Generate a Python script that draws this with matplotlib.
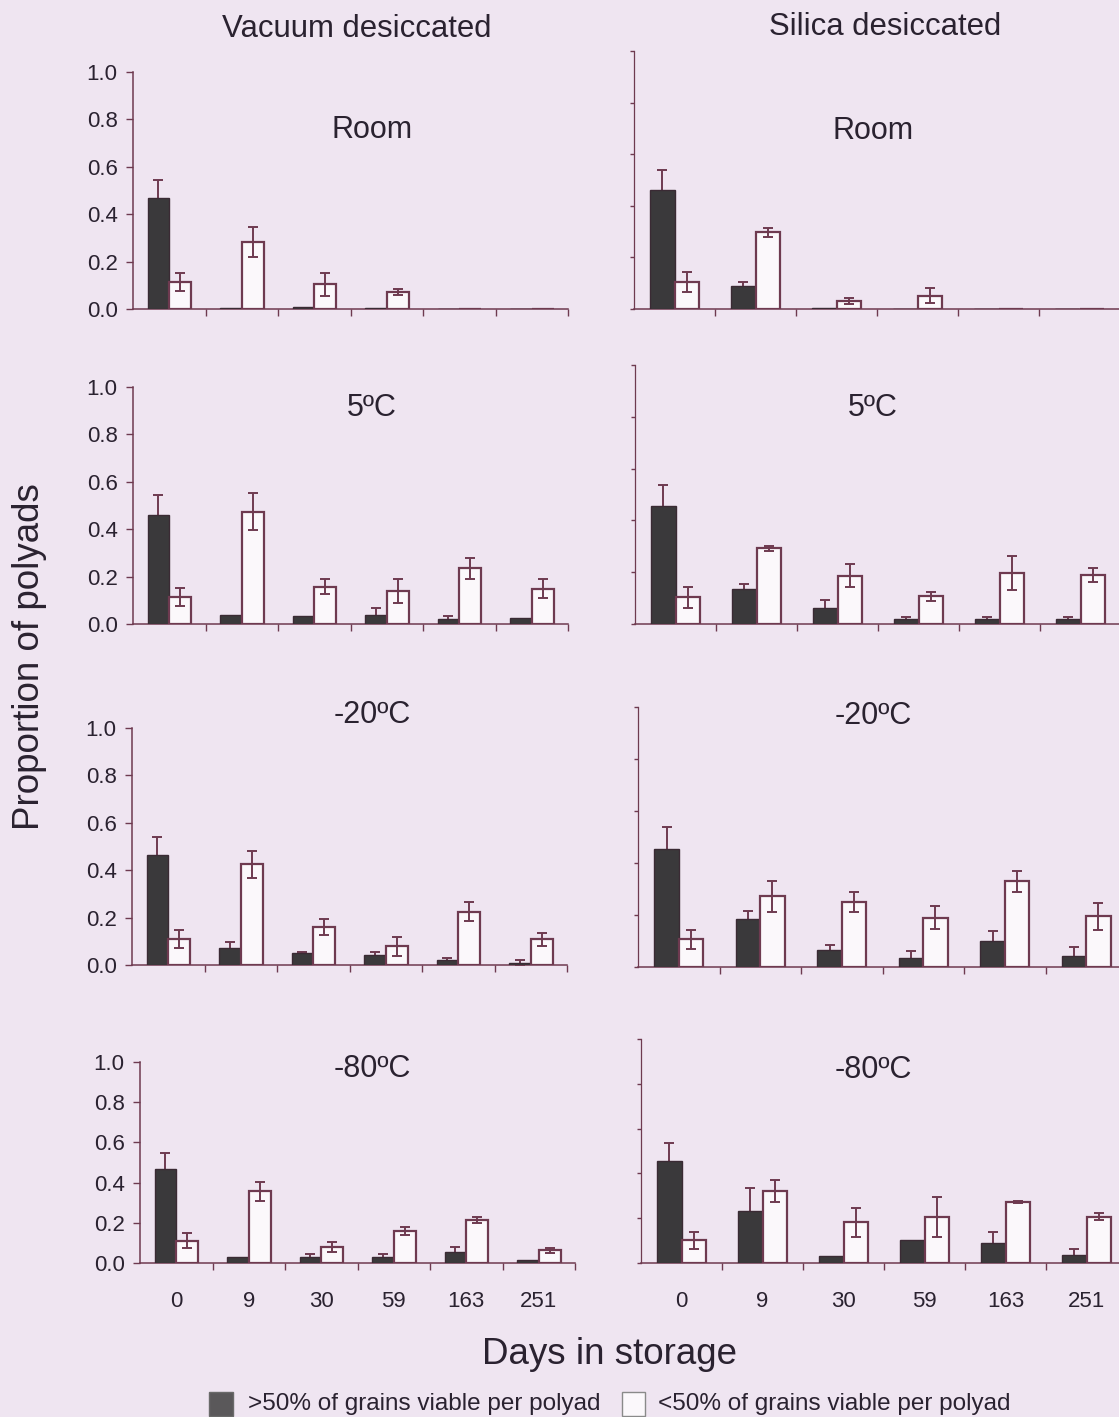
import matplotlib
matplotlib.use("Agg")
import matplotlib.pyplot as plt
import numpy as np
from matplotlib.patches import Rectangle

plt.rcParams['font.family'] = ['Liberation Sans', 'DejaVu Sans']

# ---------------- data ----------------
days = ["0", "9", "30", "59", "163", "251"]
col_titles = ["Vacuum desiccated", "Silica desiccated"]
row_titles = ["Room", "5ºC", "-20ºC", "-80ºC"]
legend_labels = [">50% of grains viable per polyad", "<50% of grains viable per polyad"]

# Vacuum desiccated
vac_room_hi = [0.467, 0.005, 0.010, 0.003, 0.0, 0.0]
vac_room_hi_err = [0.077, 0.0, 0.0, 0.0, 0.0, 0.0]
vac_room_lo = [0.115, 0.284, 0.104, 0.073, 0.0, 0.0]
vac_room_lo_err = [0.037, 0.063, 0.048, 0.012, 0.0, 0.0]

vac_5_hi = [0.461, 0.036, 0.032, 0.039, 0.021, 0.025]
vac_5_hi_err = [0.083, 0.0, 0.0, 0.029, 0.013, 0.0]
vac_5_lo = [0.112, 0.474, 0.157, 0.139, 0.235, 0.148]
vac_5_lo_err = [0.038, 0.077, 0.031, 0.052, 0.044, 0.040]

vac_m20_hi = [0.464, 0.072, 0.049, 0.042, 0.021, 0.010]
vac_m20_hi_err = [0.077, 0.026, 0.005, 0.013, 0.010, 0.011]
vac_m20_lo = [0.110, 0.425, 0.159, 0.080, 0.225, 0.108]
vac_m20_lo_err = [0.038, 0.057, 0.034, 0.040, 0.040, 0.028]

vac_m80_hi = [0.466, 0.028, 0.028, 0.028, 0.056, 0.016]
vac_m80_hi_err = [0.083, 0.0, 0.017, 0.017, 0.025, 0.0]
vac_m80_lo = [0.111, 0.356, 0.078, 0.157, 0.215, 0.063]
vac_m80_lo_err = [0.037, 0.047, 0.025, 0.020, 0.016, 0.013]

# Silica desiccated
sil_room_hi = [0.461, 0.089, 0.002, 0.0, 0.0, 0.0]
sil_room_hi_err = [0.078, 0.015, 0.0, 0.0, 0.0, 0.0]
sil_room_lo = [0.106, 0.297, 0.031, 0.052, 0.0, 0.0]
sil_room_lo_err = [0.039, 0.016, 0.010, 0.030, 0.0, 0.0]

sil_5_hi = [0.457, 0.137, 0.063, 0.019, 0.019, 0.019]
sil_5_hi_err = [0.080, 0.016, 0.028, 0.007, 0.007, 0.007]
sil_5_lo = [0.103, 0.292, 0.186, 0.107, 0.197, 0.190]
sil_5_lo_err = [0.040, 0.010, 0.045, 0.018, 0.066, 0.028]

sil_m20_hi = [0.455, 0.186, 0.065, 0.035, 0.100, 0.044]
sil_m20_hi_err = [0.083, 0.029, 0.020, 0.027, 0.038, 0.032]
sil_m20_lo = [0.106, 0.272, 0.250, 0.190, 0.330, 0.196]
sil_m20_lo_err = [0.038, 0.060, 0.038, 0.043, 0.040, 0.052]

sil_m80_hi = [0.454, 0.233, 0.030, 0.104, 0.089, 0.034]
sil_m80_hi_err = [0.082, 0.104, 0.0, 0.0, 0.048, 0.027]
sil_m80_lo = [0.101, 0.323, 0.181, 0.204, 0.272, 0.207]
sil_m80_lo_err = [0.039, 0.049, 0.065, 0.090, 0.005, 0.016]

yticks = [0.0, 0.2, 0.4, 0.6, 0.8, 1.0]

panels = [
    # (row, col, hi, hi_err, lo, lo_err, box px (left, right, top, bottom))
    (0, 0, vac_room_hi, vac_room_hi_err, vac_room_lo, vac_room_lo_err, (133, 568, 72, 309)),
    (1, 0, vac_5_hi, vac_5_hi_err, vac_5_lo, vac_5_lo_err, (133, 568, 387, 624)),
    (2, 0, vac_m20_hi, vac_m20_hi_err, vac_m20_lo, vac_m20_lo_err, (132, 567, 728, 965)),
    (3, 0, vac_m80_hi, vac_m80_hi_err, vac_m80_lo, vac_m80_lo_err, (140, 575, 1062, 1263)),
    (0, 1, sil_room_hi, sil_room_hi_err, sil_room_lo, sil_room_lo_err, (634, 1120, 51, 309)),
    (1, 1, sil_5_hi, sil_5_hi_err, sil_5_lo, sil_5_lo_err, (635, 1121, 365, 624)),
    (2, 1, sil_m20_hi, sil_m20_hi_err, sil_m20_lo, sil_m20_lo_err, (638, 1127, 707, 967)),
    (3, 1, sil_m80_hi, sil_m80_hi_err, sil_m80_lo, sil_m80_lo_err, (641, 1127, 1039, 1263)),
]

# ---------------- style ----------------
W, H = 1119, 1417
BG = '#efe5f1'
DARK = '#3a393b'
LINE = '#6e3a50'
TXT = '#2a2230'

fig = plt.figure(figsize=(W / 100, H / 100), dpi=100, facecolor=BG)


def add_ax(left, right, top, bottom):
    return fig.add_axes([left / W, 1 - bottom / H, (right - left) / W, (bottom - top) / H])


x = np.arange(len(days))
bw = 0.3
for row, col, hi, hi_err, lo, lo_err, box in panels:
    ax = add_ax(*box)
    ax.set_facecolor('none')
    hi = np.array(hi); hi_err = np.array(hi_err)
    lo = np.array(lo); lo_err = np.array(lo_err)
    ax.bar(x - bw / 2, hi, bw, color=DARK, edgecolor='#3a2a34', linewidth=1.0, zorder=3)
    ax.bar(x + bw / 2, lo, bw, color='#fbf8fb', edgecolor=LINE, linewidth=1.6, zorder=3)
    m = hi_err > 0
    ax.errorbar(x[m] - bw / 2, hi[m], yerr=hi_err[m], fmt='none', ecolor=LINE,
                elinewidth=1.4, capsize=3.5, capthick=1.4, zorder=2)
    m = lo_err > 0
    ax.errorbar(x[m] + bw / 2, lo[m], yerr=lo_err[m], fmt='none', ecolor=LINE,
                elinewidth=1.4, capsize=3.5, capthick=1.4, zorder=4)
    ax.set_xlim(-0.5, len(days) - 0.5)
    ax.set_ylim(0, 1)
    for s in ['top', 'right']:
        ax.spines[s].set_visible(False)
    for s in ['left', 'bottom']:
        ax.spines[s].set_color(LINE)
        ax.spines[s].set_linewidth(1.1)
    if col == 1:
        ax.spines['left'].set_linewidth(0.9)
    ax.set_yticks(yticks)
    ax.tick_params(axis='y', direction='out', length=5, width=1, color=LINE,
                   labelsize=16, labelcolor=TXT, pad=6)
    if col == 1:
        ax.tick_params(axis='y', labelleft=False, length=3)
    else:
        ax.set_yticklabels([f"{v:.1f}" for v in yticks])
    ax.set_xticks(x)
    ax.set_xticks(x + 0.5, minor=True)
    ax.tick_params(axis='x', which='minor', direction='out', length=5, width=1, color=LINE)
    ax.tick_params(axis='x', which='major', length=0, labelsize=16, labelcolor=TXT, pad=20)
    if row == 3:
        ax.set_xticklabels(days)
    else:
        ax.set_xticklabels([])

# panel titles (pixel positions)
title_pos = {0: [(372, 130), (372, 408), (372, 715), (372, 1069)],
             1: [(873, 131), (873, 408), (873, 716), (873, 1070)]}
for c in (0, 1):
    for r, (px, py) in enumerate(title_pos[c]):
        fig.text(px / W, 1 - py / H, row_titles[r], ha='center', va='center',
                 fontsize=22, color=TXT)

fig.text(357 / W, 1 - 29 / H, col_titles[0], ha='center', va='center', fontsize=22.4, color=TXT)
fig.text(885 / W, 1 - 27 / H, col_titles[1], ha='center', va='center', fontsize=22.4, color=TXT)

fig.text(30 / W, 1 - 657 / H, "Proportion of polyads", rotation=90, ha='center',
         va='center', fontsize=26.5, color=TXT)
fig.text(609 / W, 1 - 1354 / H, "Days in storage", ha='center', va='center',
         fontsize=26.5, color=TXT)

# legend
fig.patches.append(Rectangle((209 / W, 1 - 1416 / H), 24 / W, 24 / H, transform=fig.transFigure,
                             facecolor='#5a585a', edgecolor='#6a6a6a', linewidth=1))
fig.text(248 / W, 1 - 1404 / H, legend_labels[0], ha='left', va='center', fontsize=17.5, color=TXT)
fig.patches.append(Rectangle((622 / W, 1 - 1416 / H), 23 / W, 24 / H, transform=fig.transFigure,
                             facecolor='#fbf8fb', edgecolor='#8a8a8a', linewidth=1))
fig.text(658 / W, 1 - 1404 / H, legend_labels[1], ha='left', va='center', fontsize=17.5, color=TXT)

fig.savefig("out.png", dpi=100, facecolor=BG)
